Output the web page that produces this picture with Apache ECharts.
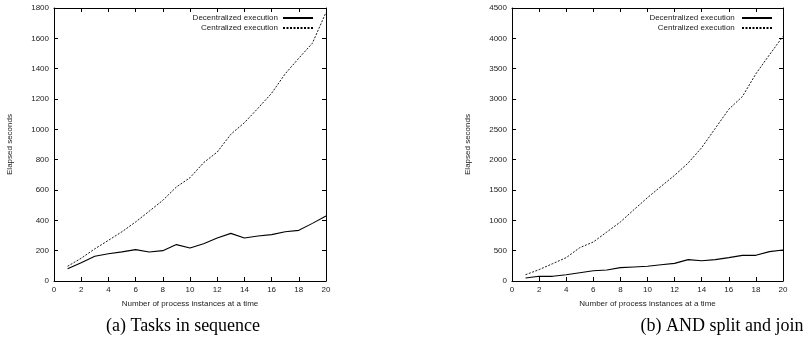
<!DOCTYPE html>
<html>
<head>
<meta charset="utf-8">
<script src="https://cdn.jsdelivr.net/npm/echarts@6/dist/echarts.min.js"></script>
<style>
  html, body { margin: 0; padding: 0; background: #fff; }
  #chart { width: 803px; height: 344px; }
</style>
</head>
<body>
<div id="chart"></div>
<script>
// Number of process instances run at a time
const instances = [1, 2, 3, 4, 5, 6, 7, 8, 9, 10, 11, 12, 13, 14, 15, 16, 17, 18, 19, 20];

// (a) Tasks in sequence — elapsed seconds
const seqDecentralized = [81, 120, 163, 180, 192, 207, 191, 200, 240, 218, 246, 284, 314, 284, 297, 306, 325, 334, 380, 429];
const seqCentralized = [97, 150, 212, 268, 325, 389, 460, 532, 620, 681, 780, 850, 967, 1044, 1139, 1238, 1366, 1469, 1568, 1771];

// (b) AND split and join — elapsed seconds
const andDecentralized = [49, 77, 77, 104, 137, 170, 181, 220, 231, 242, 269, 291, 352, 335, 352, 385, 423, 423, 484, 511];
const andCentralized = [104, 187, 286, 385, 549, 643, 808, 973, 1176, 1374, 1560, 1742, 1945, 2198, 2516, 2831, 3040, 3415, 3729, 4032];

const xTicks = { min: 0, max: 20, interval: 2 };
const seqY = { min: 0, max: 1800, interval: 200 };
const andY = { min: 0, max: 4500, interval: 500 };

const seriesNames = ['Decentralized execution', 'Centralized execution'];
const captions = ['(a) Tasks in sequence', '(b) AND split and join'];

const sans = 'Liberation Sans, Arial, sans-serif';
const serif = 'Liberation Serif, DejaVu Serif, serif';

const grids = [
  { left: 54, right: 477, top: 8, bottom: 63 },
  { left: 512, right: 20, top: 8, bottom: 63 }
];

function pairs(values) {
  return values.map((v, i) => [instances[i], v]);
}

const plainNumber = v => String(v);

function xAxes(gi) {
  const base = {
    type: 'value', gridIndex: gi, min: xTicks.min, max: xTicks.max, interval: xTicks.interval,
    axisLine: { show: true, onZero: false, lineStyle: { color: '#000', width: 1 } },
    axisTick: { show: true, inside: true, length: 4, lineStyle: { color: '#000' } },
    splitLine: { show: false }
  };
  return [
    Object.assign({}, base, {
      position: 'bottom',
      name: 'Number of process instances at a time',
      nameLocation: 'middle', nameGap: 19,
      nameTextStyle: { fontFamily: sans, fontSize: 8, color: '#222' },
      axisLabel: { fontFamily: sans, fontSize: 8, color: '#222', margin: 5, formatter: plainNumber }
    }),
    Object.assign({}, base, { position: 'top', axisLabel: { show: false } })
  ];
}

function yAxes(gi, ys) {
  const base = {
    type: 'value', gridIndex: gi, min: ys.min, max: ys.max, interval: ys.interval,
    axisLine: { show: true, onZero: false, lineStyle: { color: '#000', width: 1 } },
    axisTick: { show: true, inside: true, length: 4, lineStyle: { color: '#000' } },
    splitLine: { show: false }
  };
  return [
    Object.assign({}, base, {
      position: 'left',
      name: 'Elapsed seconds',
      nameLocation: 'middle', nameGap: 40, nameRotate: 90,
      nameTextStyle: { fontFamily: sans, fontSize: 8, color: '#222' },
      axisLabel: { fontFamily: sans, fontSize: 8, color: '#222', margin: 5, formatter: plainNumber }
    }),
    Object.assign({}, base, { position: 'right', axisLabel: { show: false } })
  ];
}

function lineSeries(name, values, xi, yi, dashed) {
  return {
    type: 'line', name: name, data: pairs(values),
    xAxisIndex: xi, yAxisIndex: yi,
    symbol: 'none', animation: false,
    lineStyle: { color: '#000', width: dashed ? 0.9 : 1.1, type: dashed ? [2, 1.5] : 'solid' },
    itemStyle: { color: '#000' }
  };
}

function legendFor(rightPx, names) {
  return {
    orient: 'vertical', right: rightPx, top: 14, align: 'right',
    padding: 0,
    itemWidth: 30, itemHeight: 6, itemGap: 2,
    data: names,
    itemStyle: { opacity: 0 },
    textStyle: { fontFamily: sans, fontSize: 8, color: '#222', padding: [0, 0, 0, 0] },
    selectedMode: false
  };
}

const chart = echarts.init(document.getElementById('chart'), null, { renderer: 'canvas' });

const seqNames = seriesNames;
const andNames = seriesNames.map(n => n + ' ');

chart.setOption({
  backgroundColor: '#fff',
  animation: false,
  title: [
    { text: captions[0], left: 178, top: 312, textAlign: 'center',
      textStyle: { fontFamily: serif, fontSize: 18, fontWeight: 'normal', color: '#000' } },
    { text: captions[1], left: 717, top: 312, textAlign: 'center',
      textStyle: { fontFamily: serif, fontSize: 18, fontWeight: 'normal', color: '#000' } }
  ],
  legend: [legendFor(489, seqNames), legendFor(30, andNames)],
  grid: grids,
  xAxis: xAxes(0).concat(xAxes(1)),
  yAxis: yAxes(0, seqY).concat(yAxes(1, andY)),
  series: [
    lineSeries(seqNames[0], seqDecentralized, 0, 0, false),
    lineSeries(seqNames[1], seqCentralized, 0, 0, true),
    lineSeries(andNames[0], andDecentralized, 2, 2, false),
    lineSeries(andNames[1], andCentralized, 2, 2, true)
  ]
});
</script>
</body>
</html>
